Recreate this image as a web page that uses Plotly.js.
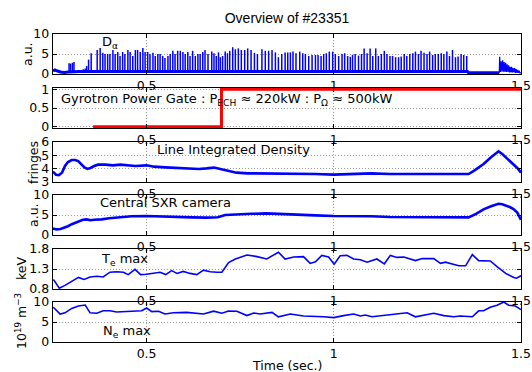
<!DOCTYPE html>
<html><head><meta charset="utf-8">
<script src="https://cdn.plot.ly/plotly-3.0.1.min.js"></script>
<style>html,body{margin:0;padding:0;background:#fff}#chart{width:532px;height:372px}</style>
</head><body><div id="chart"></div>
<script>
// ---- D-alpha spikes (time s, height a.u.) ----
const daSpikeT = [0.293,0.297,0.302,0.306,0.327,0.331,0.336,0.340,0.345,0.352,
0.368,0.376,0.383,0.389,0.396,0.402,0.410,0.416,0.423,0.429,0.436,0.442,0.450,0.456,0.463,0.470,0.476,0.483,0.490,0.496,0.503,0.509,0.517,0.523,0.530,0.536,0.543,0.549,0.557,0.563,0.570,0.576,0.583,0.590,0.597,0.603,0.610,0.616,0.623,0.630,0.637,0.643,0.650,0.656,0.664,
0.674,0.680,0.686,0.692,0.697,0.703,0.710,0.716,0.722,0.730,0.737,0.745,0.753,0.762,0.770,0.779,0.788,0.796,0.808,0.817,0.826,0.835,0.844,0.852,0.861,0.870,0.877,0.884,0.891,0.899,0.909,0.917,0.924,0.933,0.942,0.951,0.958,0.966,0.973,0.980,0.988,0.997,1.004,1.013,1.022,1.029,1.037,1.044,1.050,1.057,1.066,1.074,1.081,
1.089,1.097,1.104,1.112,1.119,1.127,1.135,1.142,1.150,1.157,1.165,1.173,1.180,1.188,1.195,1.203,1.211,1.218,1.226,1.233,1.241,1.249,1.256,1.264,1.271,1.279,1.287,1.294,1.302,1.309,1.317,1.325,1.332,1.340,1.347,1.355];
const daSpikeV = [2.7,2.6,2.8,3.0,1.0,1.2,1.4,2.0,3.6,5.2,
6.0,6.5,5.3,5.0,5.0,5.0,6.0,5.0,5.5,4.5,5.5,5.0,6.0,5.5,4.5,6.0,6.0,5.5,6.5,5.5,5.5,5.0,5.3,4.5,5.0,5.0,4.5,4.0,4.5,5.0,5.8,5.0,5.8,5.8,5.5,5.0,5.5,4.5,5.8,4.5,5.0,5.0,5.5,6.0,5.0,
5.6,5.2,4.5,5.4,4.2,4.5,5.6,5.2,5.8,6.7,6.2,6.4,6.0,6.0,6.4,6.0,5.3,5.0,6.2,5.8,5.8,6.0,5.4,4.2,5.0,5.4,5.4,5.4,5.6,5.2,5.6,5.2,5.0,4.5,4.75,4.75,4.75,4.5,5.0,5.2,5.6,5.6,5.0,4.5,5.0,5.2,4.5,4.3,4.8,5.0,4.6,5.0,6.4,
5.2,6.4,4.5,6.4,4.5,5.0,5.8,5.0,4.5,4.5,4.2,4.2,4.4,5.0,4.5,5.0,5.2,5.6,5.0,5.8,5.3,5.0,5.6,4.75,5.0,5.0,5.2,5.0,5.6,4.5,6.0,4.2,4.4,5.0,4.75,4.5];
const daBaseT = [0.25,0.255,0.26,0.27,0.28,0.29,0.32,0.35,0.5,0.7,0.9,1.1,1.3,1.357,1.36,1.442];
const daBaseV = [0.8,1.0,0.8,0.5,0.4,0.5,0.6,0.6,0.6,0.6,0.6,0.6,0.6,0.6,0.3,0.3];
const daBurstT = [1.442,1.443,1.445,1.447,1.449,1.451,1.453,1.455,1.457,1.459,1.461,1.463,1.465,1.467,1.469,1.471,1.473,1.475,1.477,1.479,1.481,1.483,1.485,1.487,1.489,1.491,1.493,1.495,1.497,1.5];
const daBurstV = [0.3,4.3,0.5,3.2,0.6,3.4,0.6,3.0,0.5,2.8,0.5,2.4,0.5,2.2,0.4,1.8,0.4,1.8,0.4,1.5,0.4,1.5,0.3,1.2,0.3,1.0,0.3,0.8,0.3,0.3];

// ---- Gyrotron power gate ----
const gateT = [0.357,0.7,0.7,1.5];
const gateV = [0,0,1,1];

// ---- Line integrated density (fringes) ----
const nlT = [0.25,0.258,0.266,0.274,0.282,0.29,0.3,0.31,0.318,0.326,0.334,0.342,0.35,0.36,0.37,0.39,0.41,0.43,0.45,0.47,0.5,0.52,0.55,0.58,0.61,0.64,0.66,0.68,0.7,0.72,0.74,0.77,0.8,0.85,0.9,0.95,1.0,1.05,1.1,1.15,1.2,1.25,1.3,1.34,1.36,1.375,1.4,1.42,1.44,1.45,1.46,1.47,1.48,1.49,1.5];
const nlV = [3.78,3.55,3.52,3.7,4.2,4.5,4.65,4.65,4.55,4.35,4.1,3.98,4.05,4.2,4.3,4.3,4.25,4.3,4.25,4.2,4.25,4.15,4.1,4.05,4.0,3.98,4.02,4.08,3.95,3.82,3.7,3.65,3.65,3.65,3.6,3.6,3.55,3.6,3.65,3.6,3.6,3.58,3.6,3.55,3.6,3.85,4.35,4.85,5.3,5.1,4.85,4.6,4.35,4.05,3.7];

// ---- Central SXR camera (a.u.) ----
const sxrT = [0.25,0.26,0.27,0.28,0.29,0.3,0.31,0.32,0.33,0.34,0.35,0.36,0.38,0.4,0.43,0.46,0.5,0.54,0.58,0.62,0.66,0.69,0.71,0.74,0.78,0.82,0.86,0.9,0.95,1.0,1.05,1.1,1.15,1.2,1.25,1.3,1.34,1.36,1.38,1.4,1.42,1.44,1.45,1.46,1.47,1.48,1.49,1.5];
const sxrV = [1.6,1.4,1.5,1.8,2.2,2.7,3.1,3.5,3.8,3.9,3.7,3.8,3.9,4.2,4.5,4.7,4.75,4.6,4.5,4.4,4.35,4.45,5.0,5.2,5.3,5.4,5.3,5.1,4.9,4.75,4.8,4.7,4.5,4.5,4.45,4.45,4.4,4.4,5.3,6.4,7.2,7.8,7.7,7.4,7.0,6.5,5.6,3.8];

// ---- Te max (keV) ----
const teT = [0.251,0.267,0.282,0.3,0.318,0.333,0.349,0.367,0.384,0.402,0.42,0.438,0.451,0.469,0.484,0.5,0.527,0.536,0.551,0.567,0.581,0.598,0.616,0.634,0.652,0.67,0.688,0.701,0.719,0.737,0.768,0.795,0.821,0.852,0.87,0.893,0.919,0.937,0.951,0.968,0.986,1.001,1.017,1.035,1.053,1.071,1.089,1.115,1.135,1.151,1.169,1.187,1.218,1.236,1.267,1.285,1.298,1.316,1.334,1.352,1.37,1.387,1.418,1.436,1.459,1.481,1.488,1.5];
const teV = [1.04,0.82,0.89,1.0,1.09,1.04,1.1,1.12,1.1,1.22,1.23,1.22,1.16,1.29,1.16,1.17,1.2,1.22,1.16,1.26,1.19,1.24,1.19,1.16,1.27,1.23,1.22,1.22,1.46,1.55,1.65,1.61,1.55,1.72,1.55,1.6,1.61,1.44,1.48,1.64,1.6,1.42,1.63,1.64,1.55,1.53,1.47,1.55,1.43,1.64,1.59,1.6,1.51,1.56,1.56,1.44,1.47,1.43,1.38,1.38,1.66,1.51,1.5,1.36,1.19,1.09,1.07,1.13];

// ---- Ne max (1e19 m^-3) ----
const neT = [0.251,0.269,0.282,0.3,0.318,0.336,0.349,0.367,0.384,0.402,0.42,0.456,0.487,0.5,0.514,0.532,0.549,0.572,0.607,0.652,0.679,0.701,0.719,0.741,0.768,0.786,0.803,0.835,0.852,0.884,0.919,0.973,1.0,1.026,1.053,1.071,1.084,1.102,1.142,1.196,1.218,1.267,1.294,1.32,1.338,1.37,1.387,1.4,1.418,1.436,1.454,1.467,1.485,1.5];
const neV = [8.7,7.0,7.3,8.4,9.0,9.25,7.3,7.2,7.8,7.8,7.5,7.7,7.8,8.5,7.6,7.7,7.0,7.3,7.4,7.0,7.7,7.2,7.75,7.7,6.6,7.25,7.0,7.4,6.3,7.0,6.5,6.3,6.1,6.6,7.0,6.5,6.75,6.3,6.75,7.3,6.3,7.2,6.6,6.3,6.5,6.3,7.8,7.8,8.7,9.2,10.0,9.2,9.0,8.1];

// ---- build D-alpha spike polyline (vertical strokes) ----
const spX = [], spY = [];
for (let i = 0; i < Math.min(daSpikeT.length, daSpikeV.length); i++) {
  spX.push(daSpikeT[i], daSpikeT[i], null);
  spY.push(0.3, daSpikeV[i], null);
}

const FONT = 'DejaVu Sans';
const BLUE = '#0000ff';
const traces = [
  {x: daBaseT, y: daBaseV, xaxis:'x', yaxis:'y', mode:'lines', line:{color:BLUE, width:3}},
  {x: spX, y: spY, xaxis:'x', yaxis:'y', mode:'lines', line:{color:BLUE, width:1.5}, connectgaps:false},
  {x: daBurstT, y: daBurstV, xaxis:'x', yaxis:'y', mode:'lines', line:{color:BLUE, width:1.2}},
  {x: gateT, y: gateV, xaxis:'x2', yaxis:'y2', mode:'lines', line:{color:'#ff0000', width:3}},
  {x: nlT, y: nlV, xaxis:'x3', yaxis:'y3', mode:'lines', line:{color:BLUE, width:2.6}},
  {x: sxrT, y: sxrV, xaxis:'x4', yaxis:'y4', mode:'lines', line:{color:BLUE, width:2.6}},
  {x: teT, y: teV, xaxis:'x5', yaxis:'y5', mode:'lines', line:{color:BLUE, width:1.6}},
  {x: neT, y: neV, xaxis:'x6', yaxis:'y6', mode:'lines', line:{color:BLUE, width:1.6}}
];

const PLOT_TOP = 34, PLOT_BOT = 342, PLOT_H = PLOT_BOT - PLOT_TOP;
const panelPx = [[34,74],[88,128],[142,182],[195,235],[249,289],[302,342]];
const yRanges = [[0,10],[-0.035,1.035],[3,6],[0,10],[0.8,1.8],[0,10]];
const yTicks = [[0,5,10],[0,0.5,1],[3,4,5,6],[0,5,10],[0.8,1.3,1.8],[0,5,10]];
const xTicks = [0.5,1,1.5];
const tickFont = {family: FONT, size: 12.5, color:'#000'};

const layout = {
  width: 532, height: 372,
  margin: {l: 53, r: 11, t: PLOT_TOP, b: 372 - PLOT_BOT, pad: 0},
  paper_bgcolor: '#fff', plot_bgcolor: '#fff',
  showlegend: false,
  font: {family: FONT, size: 12.5, color:'#000'},
  title: {text: 'Overview of #23351', font: {family: 'Liberation Sans, Arial, sans-serif', size: 14, color:'#000'},
          x: 0.5, xref: 'paper', xanchor:'center', y: 1 - 18/372, yanchor: 'middle'},
  annotations: []
};

for (let i = 0; i < 6; i++) {
  const n = i === 0 ? '' : String(i + 1);
  const [top, bot] = panelPx[i];
  layout['xaxis' + n] = {
    domain: [0, 1], anchor: 'y' + n, range: [0.25, 1.5],
    tickmode: 'array', tickvals: xTicks, ticktext: ['0.5','1','1.5'],
    ticks: 'inside', ticklen: 4, tickwidth: 1, tickcolor: '#000',
    showline: true, mirror: 'ticks', linecolor: '#000', linewidth: 1.4,
    showgrid: true, gridcolor: '#9a9a9a', griddash: '1px,2px', gridwidth: 1,
    zeroline: false, tickfont: tickFont, fixedrange: true
  };
  layout['yaxis' + n] = {
    domain: [(PLOT_BOT - bot) / PLOT_H, (PLOT_BOT - top) / PLOT_H],
    anchor: 'x' + n, range: yRanges[i],
    tickmode: 'array', tickvals: yTicks[i],
    ticks: 'inside', ticklen: 4, tickwidth: 1, tickcolor: '#000',
    showline: true, mirror: 'ticks', linecolor: '#000', linewidth: 1.4,
    showgrid: true, gridcolor: '#9a9a9a', griddash: '1px,2px', gridwidth: 1,
    zeroline: false, tickfont: tickFont, fixedrange: true
  };
}

// helpers: pixel -> paper
const px2x = p => (p - 53) / 468;
const py2y = p => (PLOT_BOT - p) / PLOT_H;
const ann = (text, xp, yp, opts) => Object.assign({
  text, xref:'paper', yref:'paper', x: px2x(xp), y: py2y(yp),
  showarrow:false, font:{family: FONT, size: 13, color:'#000'}, xanchor:'left', yanchor:'middle'
}, opts || {});

// y-axis titles
const yTitles = [['a.u.', 27, 54], ['fringes', 34, 163], ['a.u.', 33, 215], ['keV', 21, 269], ['10<sup>19</sup> m<sup>−3</sup>', 21, 321]];
yTitles.forEach(([t, xp, yp]) => layout.annotations.push(ann(t, xp, yp, {textangle:-90, xanchor:'center', font:{family:FONT, size:12.5, color:'#000'}})));

// in-panel labels
layout.annotations.push(ann('D<sub>α</sub>', 100, 42));
layout.annotations.push(ann('Gyrotron Power Gate : P<sub>ECH</sub> ≈ 220kW : P<sub>Ω</sub> ≈ 500kW', 59, 99));
layout.annotations.push(ann('Line Integrated Density', 233, 149, {xanchor:'center'}));
layout.annotations.push(ann('Central SXR camera', 165, 202, {xanchor:'center'}));
layout.annotations.push(ann('T<sub>e</sub> max', 99, 259));
layout.annotations.push(ann('N<sub>e</sub> max', 101, 331));
layout.annotations.push(ann('Time (sec.)', 287, 365, {xanchor:'center', font:{family:FONT, size:12.5, color:'#000'}}));

Plotly.newPlot('chart', traces, layout, {displayModeBar:false, staticPlot:true});
</script>
</body></html>
